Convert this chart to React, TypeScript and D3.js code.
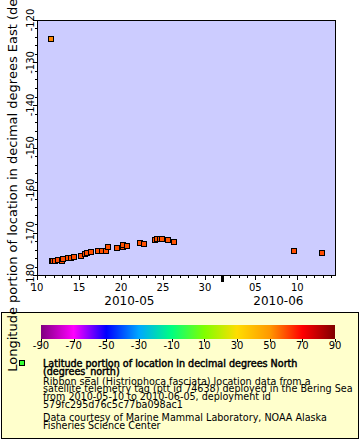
import * as d3 from 'd3';
import { useEffect, useRef } from 'react';

// track fixes: time (UTC), longitude (degrees_east), latitude (degrees_north)
const times = [
    '2010-05-11T17:00Z', '2010-05-11T18:00Z', '2010-05-11T22:00Z', '2010-05-12T03:20Z', '2010-05-12T12:00Z',
    '2010-05-12T22:30Z', '2010-05-13T03:00Z', '2010-05-13T17:30Z', '2010-05-14T00:15Z', '2010-05-14T09:40Z',
    '2010-05-15T05:45Z', '2010-05-15T17:00Z', '2010-05-15T23:45Z', '2010-05-16T10:20Z', '2010-05-17T07:10Z',
    '2010-05-17T18:00Z', '2010-05-18T05:00Z', '2010-05-18T11:45Z', '2010-05-19T11:45Z', '2010-05-20T04:50Z',
    '2010-05-20T06:30Z', '2010-05-20T16:20Z', '2010-05-22T06:15Z', '2010-05-22T18:30Z', '2010-05-24T02:00Z',
    '2010-05-24T08:00Z', '2010-05-24T15:20Z', '2010-05-24T22:00Z', '2010-05-25T15:10Z', '2010-05-26T07:30Z',
    '2010-06-09T14:25Z', '2010-06-12T21:35Z',
];
const longitudes = [
    -124.5, -176.6, -176.6, -176.6, -176.5,
    -176.6, -176.3, -176.1, -176.1, -175.8,
    -175.5, -175.1, -174.8, -174.5, -174.3,
    -174.4, -174.3, -173.5, -173.6, -173.5,
    -172.9, -173.2, -172.5, -172.7, -171.7,
    -171.5, -171.6, -171.5, -171.8, -172.2,
    -174.3, -174.8,
];
const latitudes = [
    52.5, 60.5, 60.5, 60.4, 60.4,
    60.3, 60.3, 60.2, 60.2, 60.1,
    60.0, 60.0, 59.9, 59.9, 59.8,
    59.8, 59.7, 59.7, 59.6, 59.6,
    59.5, 59.5, 59.4, 59.4, 59.3,
    59.3, 59.3, 59.2, 59.2, 59.1,
    60.0, 60.2,
];

const yTicks = [-180, -170, -160, -150, -140, -130, -120];
const xTickDays = ['2010-05-10', '2010-05-15', '2010-05-20', '2010-05-25', '2010-05-30', '2010-06-05', '2010-06-10'];
const months = ['2010-05-01', '2010-06-01', '2010-07-01'];

const colorStops = [-90, -70, -50, -30, -10, 10, 30, 50, 70, 90];
const colorRange = ['#800080', '#ff00ff', '#0000ff', '#00a8ff', '#00ff80', '#80ff00', '#ffdd00', '#ff9900', '#ff0000', '#800000'];

const yLabel = 'Longitude portion of location in decimal degrees East (degrees_east)';
const legendTitle = ['Latitude portion of location in decimal degrees North', '(degrees_north)'];
const legendBody = [
    'Ribbon seal (Histriophoca fasciata) location data from a',
    'satellite telemetry tag (ptt id 74638) deployed in the Bering Sea',
    'from 2010-05-10 to 2010-06-05, deployment id',
    '579fc295d76c5c77ba098ac1',
];
const legendCredit = ['Data courtesy of Marine Mammal Laboratory, NOAA Alaska', 'Fisheries Science Center'];

const W = 360;
const H = 440;
const font = '"DejaVu Sans", sans-serif';

export default function App() {
    const svgRef = useRef<SVGSVGElement>(null);

    useEffect(() => {
        const svg = d3.select(svgRef.current);
        svg.selectAll('*').remove();

        const plot = { left: 37, right: 335, top: 20, bottom: 275 };
        const x = d3.scaleUtc()
            .domain([new Date('2010-05-10T00:00Z'), new Date('2010-06-14T11:30Z')])
            .range([plot.left, plot.right]);
        const y = d3.scaleLinear().domain([-180, -120]).range([plot.bottom, plot.top]);
        const color = d3.scaleLinear<string>().domain(colorStops).range(colorRange).clamp(true);

        svg.append('rect').attr('width', W).attr('height', H).attr('fill', 'white');

        svg.append('rect')
            .attr('x', plot.left + 0.5)
            .attr('y', plot.top + 0.5)
            .attr('width', plot.right - plot.left)
            .attr('height', plot.bottom - plot.top)
            .attr('fill', '#ccccff')
            .attr('stroke', 'black');

        // y axis ticks
        const yAxis = svg.append('g');
        yAxis.selectAll('.minor')
            .data(d3.range(-180, -119, 2))
            .enter()
            .append('line')
            .attr('x1', plot.left)
            .attr('x2', (d) => plot.left - (d % 10 === 0 ? 4 : 2))
            .attr('y1', (d) => Math.round(y(d)) + 0.5)
            .attr('y2', (d) => Math.round(y(d)) + 0.5)
            .attr('stroke', 'black');
        yAxis.selectAll('.lab')
            .data(yTicks)
            .enter()
            .append('text')
            .attr('transform', (d) => `translate(34, ${y(d)}) rotate(-90)`)
            .attr('text-anchor', 'middle')
            .style('font-family', font)
            .style('font-size', '10px')
            .text((d) => String(d));

        // x axis ticks
        const xAxis = svg.append('g');
        const days = x.ticks(d3.utcDay.every(1)!);
        xAxis.selectAll('.day')
            .data(days)
            .enter()
            .append('line')
            .attr('x1', (d) => Math.round(x(d)) + 0.5)
            .attr('x2', (d) => Math.round(x(d)) + 0.5)
            .attr('y1', plot.bottom)
            .attr('y2', plot.bottom + 3)
            .attr('stroke', 'black');
        const majors = xTickDays.map((d) => new Date(d + 'T00:00Z'));
        xAxis.selectAll('.major')
            .data(majors)
            .enter()
            .append('line')
            .attr('x1', (d) => Math.round(x(d)) + 0.5)
            .attr('x2', (d) => Math.round(x(d)) + 0.5)
            .attr('y1', plot.bottom)
            .attr('y2', plot.bottom + 5)
            .attr('stroke', 'black');
        xAxis.selectAll('.lab')
            .data(majors)
            .enter()
            .append('text')
            .attr('x', (d) => x(d))
            .attr('y', 291)
            .attr('text-anchor', 'middle')
            .style('font-family', font)
            .style('font-size', '10px')
            .text((d) => d3.utcFormat('%d')(d));

        const monthDates = months.map((d) => new Date(d + 'T00:00Z'));
        const [d0, d1] = x.domain();
        monthDates.slice(1, -1).forEach((m) => {
            xAxis.append('rect')
                .attr('x', Math.round(x(m)) - 1)
                .attr('y', plot.bottom)
                .attr('width', 3)
                .attr('height', 7)
                .attr('fill', 'black');
        });
        monthDates.slice(0, -1).forEach((m, i) => {
            const a = m < d0 ? d0 : m;
            const b = monthDates[i + 1] > d1 ? d1 : monthDates[i + 1];
            xAxis.append('text')
                .attr('x', (x(a) + x(b)) / 2)
                .attr('y', 305)
                .attr('text-anchor', 'middle')
                .style('font-family', font)
                .style('font-size', '12px')
                .text(d3.utcFormat('%Y-%m')(m));
        });

        // points
        const idx = d3.range(times.length);
        svg.append('g')
            .selectAll('rect')
            .data(idx)
            .enter()
            .append('rect')
            .attr('x', (i) => Math.round(x(new Date(times[i]))) - 2.5)
            .attr('y', (i) => Math.round(y(longitudes[i])) - 2.5)
            .attr('width', 5)
            .attr('height', 5)
            .attr('fill', (i) => color(latitudes[i]))
            .attr('stroke', 'black');

        // legend
        const legend = svg.append('g');
        legend.append('rect')
            .attr('x', 1.5)
            .attr('y', 312.5)
            .attr('width', 357)
            .attr('height', 126)
            .attr('fill', '#ffffcc')
            .attr('stroke', 'black');

        const bar = { left: 41, right: 335, top: 325, bottom: 339 };
        const cx = d3.scaleLinear().domain([-90, 90]).range([bar.left, bar.right]);
        const grad = svg.append('defs').append('linearGradient').attr('id', 'cbar');
        colorStops.forEach((v, i) => {
            grad.append('stop')
                .attr('offset', `${((v + 90) / 180) * 100}%`)
                .attr('stop-color', colorRange[i]);
        });
        legend.append('rect')
            .attr('x', bar.left)
            .attr('y', bar.top)
            .attr('width', bar.right - bar.left)
            .attr('height', bar.bottom - bar.top)
            .attr('fill', 'url(#cbar)');
        legend.selectAll('.ctick')
            .data(colorStops)
            .enter()
            .append('line')
            .attr('x1', (d) => Math.round(cx(d)) + 0.5)
            .attr('x2', (d) => Math.round(cx(d)) + 0.5)
            .attr('y1', bar.bottom)
            .attr('y2', bar.bottom + 3)
            .attr('stroke', 'black');
        legend.selectAll('.clab')
            .data(colorStops)
            .enter()
            .append('text')
            .attr('x', (d) => cx(d))
            .attr('y', 348.5)
            .attr('text-anchor', 'middle')
            .style('font-family', font)
            .style('font-size', '10px')
            .text((d) => String(d));

        legend.append('rect')
            .attr('x', 19.5)
            .attr('y', 360.5)
            .attr('width', 5)
            .attr('height', 5)
            .attr('fill', '#33ff33')
            .attr('stroke', 'black');

        const lines = [
            ...legendTitle.map((t, i) => ({ t, y: 367 + i * 8, bold: true })),
            ...legendBody.map((t, i) => ({ t, y: 384.5 + i * 7.8, bold: false })),
            ...legendCredit.map((t, i) => ({ t, y: 420.5 + i * 8, bold: false })),
        ];
        // the title is a fake bold: regular glyphs with a thin stroke, so it keeps regular widths
        legend.selectAll('.ltxt')
            .data(lines)
            .enter()
            .append('text')
            .attr('x', 43)
            .attr('y', (d) => d.y)
            .style('font-family', font)
            .style('font-size', '9.6px')
            .attr('stroke', (d) => (d.bold ? 'black' : 'none'))
            .attr('stroke-width', 0.45)
            .text((d) => d.t);

        // y axis title, drawn last so it overlaps the legend like the original
        svg.append('text')
            .attr('transform', `translate(17, ${(plot.top + plot.bottom) / 2}) rotate(-90)`)
            .attr('text-anchor', 'middle')
            .style('font-family', font)
            .style('font-size', '13px')
            .text(yLabel);
    }, []);

    return (
        <svg ref={svgRef} width={W} height={H} style={{ position: 'absolute', left: 0, top: 0 }}></svg>
    );
}
